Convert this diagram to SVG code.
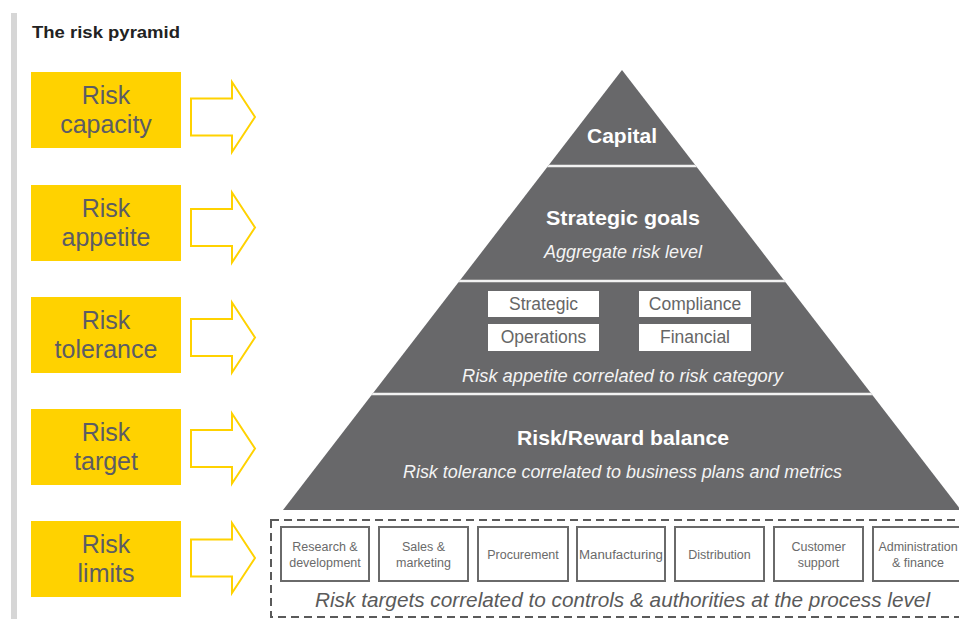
<svg xmlns="http://www.w3.org/2000/svg" width="959" height="619" viewBox="0 0 959 619">
<style>
.ybox{fill:#FFD200}
.ytxt{font-family:"Liberation Sans",Arial,sans-serif;font-size:25px;fill:#5c5c64;text-anchor:middle}
.arrow{fill:#fff;stroke:#FFD200;stroke-width:2;stroke-linejoin:miter}
.tier{fill:#68686a}
.sep{stroke:#f2f2f2;stroke-width:2.5}
.hd{font-family:"Liberation Sans",Arial,sans-serif;font-size:21px;font-weight:bold;fill:#fff;text-anchor:middle}
.it{font-family:"Liberation Sans",Arial,sans-serif;font-size:18px;font-style:italic;fill:#f4f4f4;text-anchor:middle}
.wbox{fill:#fff}
.wtxt{font-family:"Liberation Sans",Arial,sans-serif;font-size:17.5px;fill:#666;text-anchor:middle}
.pbox{fill:#fff;stroke:#6a6a6a;stroke-width:2}
.ptxt{font-family:"Liberation Sans",Arial,sans-serif;font-size:12.5px;fill:#6a6a6a;text-anchor:middle}
.dash{fill:none;stroke:#5a5a5a;stroke-width:2;stroke-dasharray:8 5}
.ptit{font-family:"Liberation Sans",Arial,sans-serif;font-size:20.5px;font-style:italic;fill:#5a5a5a;text-anchor:middle}
</style>
<defs>
<clipPath id="pyrclip"><polygon points="622,70 961,510 283,510"/></clipPath>
</defs>
<rect x="0" y="0" width="959" height="619" fill="#fff"/>
<rect x="11" y="13" width="6" height="606" fill="#d6d6d6"/>
<text x="32" y="38" font-family="Liberation Sans,Arial,sans-serif" font-size="17" font-weight="bold" fill="#222" textLength="148" lengthAdjust="spacingAndGlyphs">The risk pyramid</text>

<g id="risk-capacity">
<rect class="ybox" x="31" y="72" width="150" height="76"/>
<text class="ytxt" x="106" y="104">Risk</text>
<text class="ytxt" x="106" y="133">capacity</text>
</g>
<g id="risk-appetite">
<rect class="ybox" x="31" y="185" width="150" height="76"/>
<text class="ytxt" x="106" y="217">Risk</text>
<text class="ytxt" x="106" y="246">appetite</text>
</g>
<g id="risk-tolerance">
<rect class="ybox" x="31" y="297" width="150" height="76"/>
<text class="ytxt" x="106" y="329">Risk</text>
<text class="ytxt" x="106" y="358">tolerance</text>
</g>
<g id="risk-target">
<rect class="ybox" x="31" y="409" width="150" height="76"/>
<text class="ytxt" x="106" y="441">Risk</text>
<text class="ytxt" x="106" y="470">target</text>
</g>
<g id="risk-limits">
<rect class="ybox" x="31" y="521" width="150" height="76"/>
<text class="ytxt" x="106" y="553">Risk</text>
<text class="ytxt" x="106" y="582">limits</text>
</g>

<g id="connectors">
<path class="arrow" d="M191,98.5 H232 V82 L255,117 L232,152 V135.5 H191 Z"/>
<path class="arrow" d="M191,209 H232 V192.5 L255,227.5 L232,262.5 V246 H191 Z"/>
<path class="arrow" d="M191,319 H232 V302.5 L255,337.5 L232,372.5 V356 H191 Z"/>
<path class="arrow" d="M191,430 H232 V413.5 L255,448.5 L232,483.5 V467 H191 Z"/>
<path class="arrow" d="M191,539.5 H232 V523 L255,558 L232,593 V576.5 H191 Z"/>
</g>

<g id="pyramid">
<polygon class="tier" points="622,70 961,510 283,510"/>
<g clip-path="url(#pyrclip)">
<line class="sep" x1="540" y1="166" x2="705" y2="166"/>
<line class="sep" x1="450" y1="281" x2="795" y2="281"/>
<line class="sep" x1="362" y1="394" x2="882" y2="394"/>
</g>
</g>

<g id="capital">
<text class="hd" x="622" y="143">Capital</text>
</g>
<g id="strategic-goals">
<text class="hd" x="623" y="225" textLength="154" lengthAdjust="spacingAndGlyphs">Strategic goals</text>
<text class="it" x="623" y="258" textLength="158" lengthAdjust="spacingAndGlyphs">Aggregate risk level</text>
</g>
<g id="risk-categories">
<rect class="wbox" x="488" y="291" width="111" height="26"/>
<text class="wtxt" x="543.5" y="310">Strategic</text>
<rect class="wbox" x="639" y="291" width="112" height="26"/>
<text class="wtxt" x="695" y="310">Compliance</text>
<rect class="wbox" x="488" y="324" width="111" height="27"/>
<text class="wtxt" x="543.5" y="343">Operations</text>
<rect class="wbox" x="639" y="324" width="112" height="27"/>
<text class="wtxt" x="695" y="343">Financial</text>
<text class="it" x="622.5" y="382" textLength="321" lengthAdjust="spacingAndGlyphs">Risk appetite correlated to risk category</text>
</g>
<g id="risk-reward">
<text class="hd" x="623" y="445" textLength="212" lengthAdjust="spacingAndGlyphs">Risk/Reward balance</text>
<text class="it" x="622.5" y="478" textLength="439" lengthAdjust="spacingAndGlyphs">Risk tolerance correlated to business plans and metrics</text>
</g>

<g id="process-level">
<rect class="dash" x="271" y="520" width="700" height="97"/>
<rect class="pbox" x="281" y="527" width="88" height="54"/>
<text class="ptxt" x="325" y="551">Research &amp;</text>
<text class="ptxt" x="325" y="567">development</text>
<rect class="pbox" x="379" y="527" width="89" height="54"/>
<text class="ptxt" x="423.5" y="551">Sales &amp;</text>
<text class="ptxt" x="423.5" y="567">marketing</text>
<rect class="pbox" x="478" y="527" width="90" height="54"/>
<text class="ptxt" x="523" y="559">Procurement</text>
<rect class="pbox" x="577" y="527" width="88" height="54"/>
<text class="ptxt" x="621" y="559" textLength="84" lengthAdjust="spacingAndGlyphs">Manufacturing</text>
<rect class="pbox" x="675" y="527" width="89" height="54"/>
<text class="ptxt" x="719.5" y="559">Distribution</text>
<rect class="pbox" x="774" y="527" width="89" height="54"/>
<text class="ptxt" x="818.5" y="551">Customer</text>
<text class="ptxt" x="818.5" y="567">support</text>
<rect class="pbox" x="873" y="527" width="90" height="54"/>
<text class="ptxt" x="918" y="551">Administration</text>
<text class="ptxt" x="918" y="567">&amp; finance</text>
<text class="ptit" x="622.5" y="607" textLength="615" lengthAdjust="spacingAndGlyphs">Risk targets correlated to controls &amp; authorities at the process level</text>
</g>
</svg>
